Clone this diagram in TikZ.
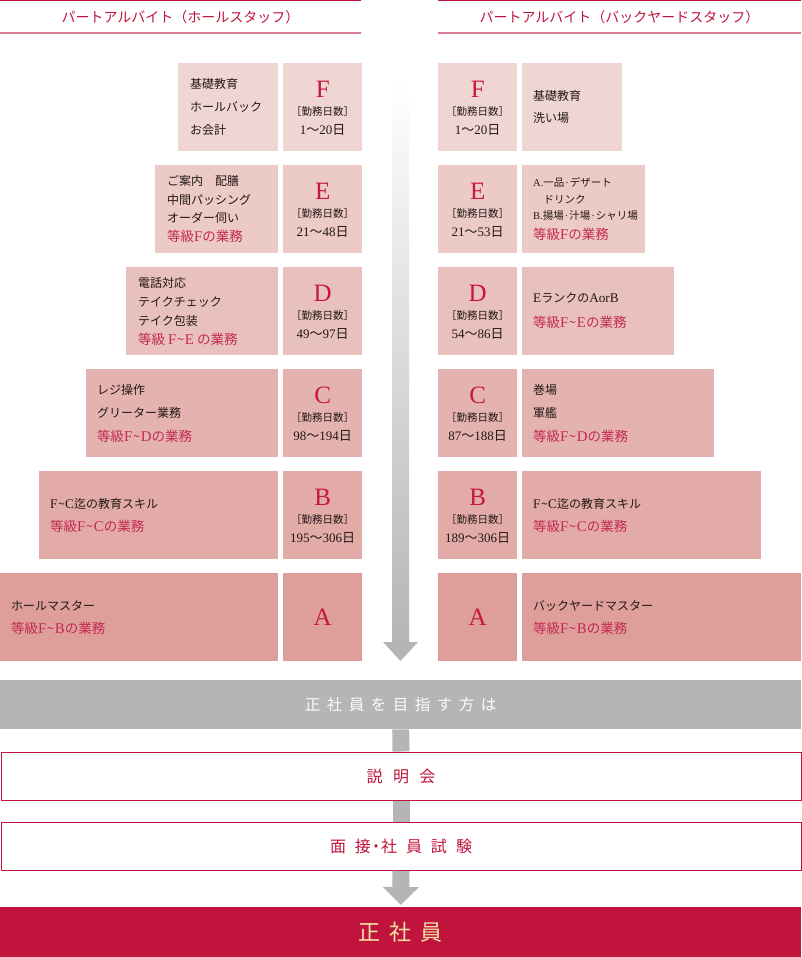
\documentclass[tikz,border=0pt]{standalone}
\usepackage{fontspec}
\setmainfont{Noto Sans CJK JP}
\newfontfamily\lat{Liberation Serif}
\newfontfamily\latd[Scale=1.1]{Liberation Serif}
\usetikzlibrary{arrows.meta}
\definecolor{crim}{HTML}{C0143C}
\definecolor{gradecol}{HTML}{C8163F}
\definecolor{redtxt}{HTML}{C42A52}
\definecolor{ink}{HTML}{231815}
\definecolor{rowF}{HTML}{F0D6D3}
\definecolor{rowE}{HTML}{ECCAC6}
\definecolor{rowD}{HTML}{E8C0BC}
\definecolor{rowC}{HTML}{E4B3B0}
\definecolor{rowB}{HTML}{E2ABA8}
\definecolor{rowA}{HTML}{DE9F9B}
\definecolor{grayb}{HTML}{B4B5B4}
\definecolor{gold}{HTML}{F4E2A6}
\definecolor{hdrline}{HTML}{D97A90}
\newcommand\lt[1]{{\lat #1}}
\newcommand\ld[1]{{\latd #1}}
\newcommand\tl{\hspace{0.5pt}\textasciitilde\hspace{0.5pt}}
\newcommand\nd{\hspace{1pt}{\lat ·}\hspace{1pt}}
\newcommand\rd[1]{{\color{redtxt}\fontsize{13.5}{13.5}\selectfont #1}}
\newcommand\dd[2]{\lt{#1}～\lt{#2}日}
\tikzset{
  cell/.style={inner sep=0pt, minimum height=88pt, anchor=north west},
  gradeletter/.style={font=\lat\fontsize{25}{25}\selectfont, text=gradecol, inner sep=0pt},
  bracket/.style={font=\fontsize{10.5}{11}\selectfont, text=ink, inner sep=0pt},
  days/.style={font=\fontsize{13}{13}\selectfont, text=ink, inner sep=0pt},
  desc/.style={align=left, text=ink, inner sep=0pt, anchor=west},
  hdr/.style={font=\fontsize{14}{14}\selectfont, text=crim, inner sep=0pt},
  bar/.style={inner sep=0pt, minimum width=801pt, minimum height=49pt, anchor=north west},
  conn/.style={line width=17pt, grayb},
}
\newcommand\gbox[6]{%
  \node[cell, fill=#4, minimum width=79pt] (#1) at (#2,#3) {};
  \node[gradeletter] at ([yshift=-26pt]#1.north) {#5};
  \node[bracket] at ([yshift=-48.5pt]#1.north) {［勤務日数］};
  \node[days] at ([yshift=-67pt]#1.north) {#6};
}
\begin{document}
\begin{tikzpicture}[x=1pt,y=-1pt]
\useasboundingbox (0,0) rectangle (801,957);
% headers
\draw[crim, line width=1.5pt] (0,0.75) -- (361,0.75);
\draw[hdrline, line width=2pt] (0,33) -- (361,33);
\node[hdr] (hL) at (180.5,17) {パートアルバイト（ホールスタッフ）};
\draw[crim, line width=1.5pt] (438,0.75) -- (801,0.75);
\draw[hdrline, line width=2pt] (438,33) -- (801,33);
\node[hdr] (hR) at (619.5,17) {パートアルバイト（バックヤードスタッフ）};
% central arrow
\shade[top color=white, bottom color=grayb] (392,82) rectangle (409,642.5);
\fill[grayb] (383,642) -- (418,642) -- (400.5,661) -- cycle;
% ---------- left column ----------
\node[cell, fill=rowF, minimum width=100pt] (lF) at (178,63) {};
\node[desc, font=\fontsize{12}{23}\selectfont] at ([xshift=12pt]lF.west) {基礎教育\\ホールバック\\お会計};
\gbox{gF}{283}{63}{rowF}{F}{\dd{1}{20}}
\node[cell, fill=rowE, minimum width=123pt] (lE) at (155,165) {};
\node[desc, font=\fontsize{12}{18.5}\selectfont] at ([xshift=12pt]lE.west) {ご案内　配膳\\中間パッシング\\オーダー伺い\\\rd{等級\ld{F}の業務}};
\gbox{gE}{283}{165}{rowE}{E}{\dd{21}{48}}
\node[cell, fill=rowD, minimum width=152pt] (lD) at (126,267) {};
\node[desc, font=\fontsize{12}{19}\selectfont] at ([xshift=12pt]lD.west) {電話対応\\テイクチェック\\テイク包装\\\rd{等級 \ld{F}\tl\ld{E} の業務}};
\gbox{gD}{283}{267}{rowD}{D}{\dd{49}{97}}
\node[cell, fill=rowC, minimum width=192pt] (lC) at (86,369) {};
\node[desc, font=\fontsize{12}{23.5}\selectfont] at ([xshift=11pt]lC.west) {レジ操作\\グリーター業務\\\rd{等級\ld{F}\tl\ld{D}の業務}};
\gbox{gC}{283}{369}{rowC}{C}{\dd{98}{194}}
\node[cell, fill=rowB, minimum width=239pt] (lB) at (39,471) {};
\node[desc, font=\fontsize{12}{23}\selectfont] at ([xshift=11pt]lB.west) {\ld{F}\tl\ld{C}迄の教育スキル\\\rd{等級\ld{F}\tl\ld{C}の業務}};
\gbox{gB}{283}{471}{rowB}{B}{\dd{195}{306}}
\node[cell, fill=rowA, minimum width=278pt] (lA) at (0,573) {};
\node[desc, font=\fontsize{12}{23}\selectfont] at ([xshift=11pt]lA.west) {ホールマスター\\\rd{等級\ld{F}\tl\ld{B}の業務}};
\node[cell, fill=rowA, minimum width=79pt] (gA) at (283,573) {};
\node[gradeletter] at (gA.center) {A};
% ---------- right column ----------
\gbox{hF}{438}{63}{rowF}{F}{\dd{1}{20}}
\node[cell, fill=rowF, minimum width=100pt] (rF) at (522,63) {};
\node[desc, font=\fontsize{12}{22}\selectfont] at ([xshift=11pt]rF.west) {基礎教育\\洗い場};
\gbox{hE}{438}{165}{rowE}{E}{\dd{21}{53}}
\node[cell, fill=rowE, minimum width=123pt] (rE) at (522,165) {};
\node[desc, font=\fontsize{10.5}{16.5}\selectfont] at ([xshift=11pt]rE.west) {\lt{A.}一品\nd デザート\\　ドリンク\\\lt{B.}揚場\nd 汁場\nd シャリ場\\[3pt]\rd{等級\ld{F}の業務}};
\gbox{hD}{438}{267}{rowD}{D}{\dd{54}{86}}
\node[cell, fill=rowD, minimum width=152pt] (rD) at (522,267) {};
\node[desc, font=\fontsize{12}{25}\selectfont] at ([xshift=11pt]rD.west) {\ld{E}ランクの\ld{AorB}\\\rd{等級\ld{F}\tl\ld{E}の業務}};
\gbox{hC}{438}{369}{rowC}{C}{\dd{87}{188}}
\node[cell, fill=rowC, minimum width=192pt] (rC) at (522,369) {};
\node[desc, font=\fontsize{12}{23.5}\selectfont] at ([xshift=11pt]rC.west) {巻場\\軍艦\\\rd{等級\ld{F}\tl\ld{D}の業務}};
\gbox{hB}{438}{471}{rowB}{B}{\dd{189}{306}}
\node[cell, fill=rowB, minimum width=239pt] (rB) at (522,471) {};
\node[desc, font=\fontsize{12}{23}\selectfont] at ([xshift=11pt]rB.west) {\ld{F}\tl\ld{C}迄の教育スキル\\\rd{等級\ld{F}\tl\ld{C}の業務}};
\node[cell, fill=rowA, minimum width=79pt] (hA) at (438,573) {};
\node[gradeletter] at (hA.center) {A};
\node[cell, fill=rowA, minimum width=279pt] (rA) at (522,573) {};
\node[desc, font=\fontsize{12}{23}\selectfont] at ([xshift=11pt]rA.west) {バックヤードマスター\\\rd{等級\ld{F}\tl\ld{B}の業務}};
% ---------- bottom flow ----------
\node[bar, fill=grayb, text=white!96!grayb, font=\fontsize{15.5}{16}\selectfont] (goal) at (0,680)
  {正\hspace{6.5pt}社\hspace{6.5pt}員\hspace{6.5pt}を\hspace{6.5pt}目\hspace{6.5pt}指\hspace{6.5pt}す\hspace{6.5pt}方\hspace{6.5pt}は};
\node[bar, draw=crim, line width=1pt, fill=white, minimum width=800pt, minimum height=48pt, text=crim, font=\fontsize{16}{16}\selectfont] (setsu) at (0.5,751.5)
  {説\hspace{10.5pt}明\hspace{10.5pt}会};
\node[bar, draw=crim, line width=1pt, fill=white, minimum width=800pt, minimum height=48pt, text=crim, font=\fontsize{16}{16}\selectfont] (mensetsu) at (0.5,822)
  {面\hspace{9pt}接\hspace{-3pt}・\hspace{-3pt}社\hspace{9pt}員\hspace{9pt}試\hspace{9pt}験};
\node[bar, fill=crim, minimum height=50pt, text=gold, font=\fontsize{22}{22}\selectfont] (seishain) at (0,907)
  {正\hspace{9pt}社\hspace{9pt}員};
\draw[conn] (goal.south) -- (setsu.north);
\draw[conn] (setsu.south) -- (mensetsu.north);
\draw[conn, -{Triangle[width=35pt,length=18pt]}, shorten >=2pt] (mensetsu.south) -- (seishain.north);
\end{tikzpicture}
\end{document}
